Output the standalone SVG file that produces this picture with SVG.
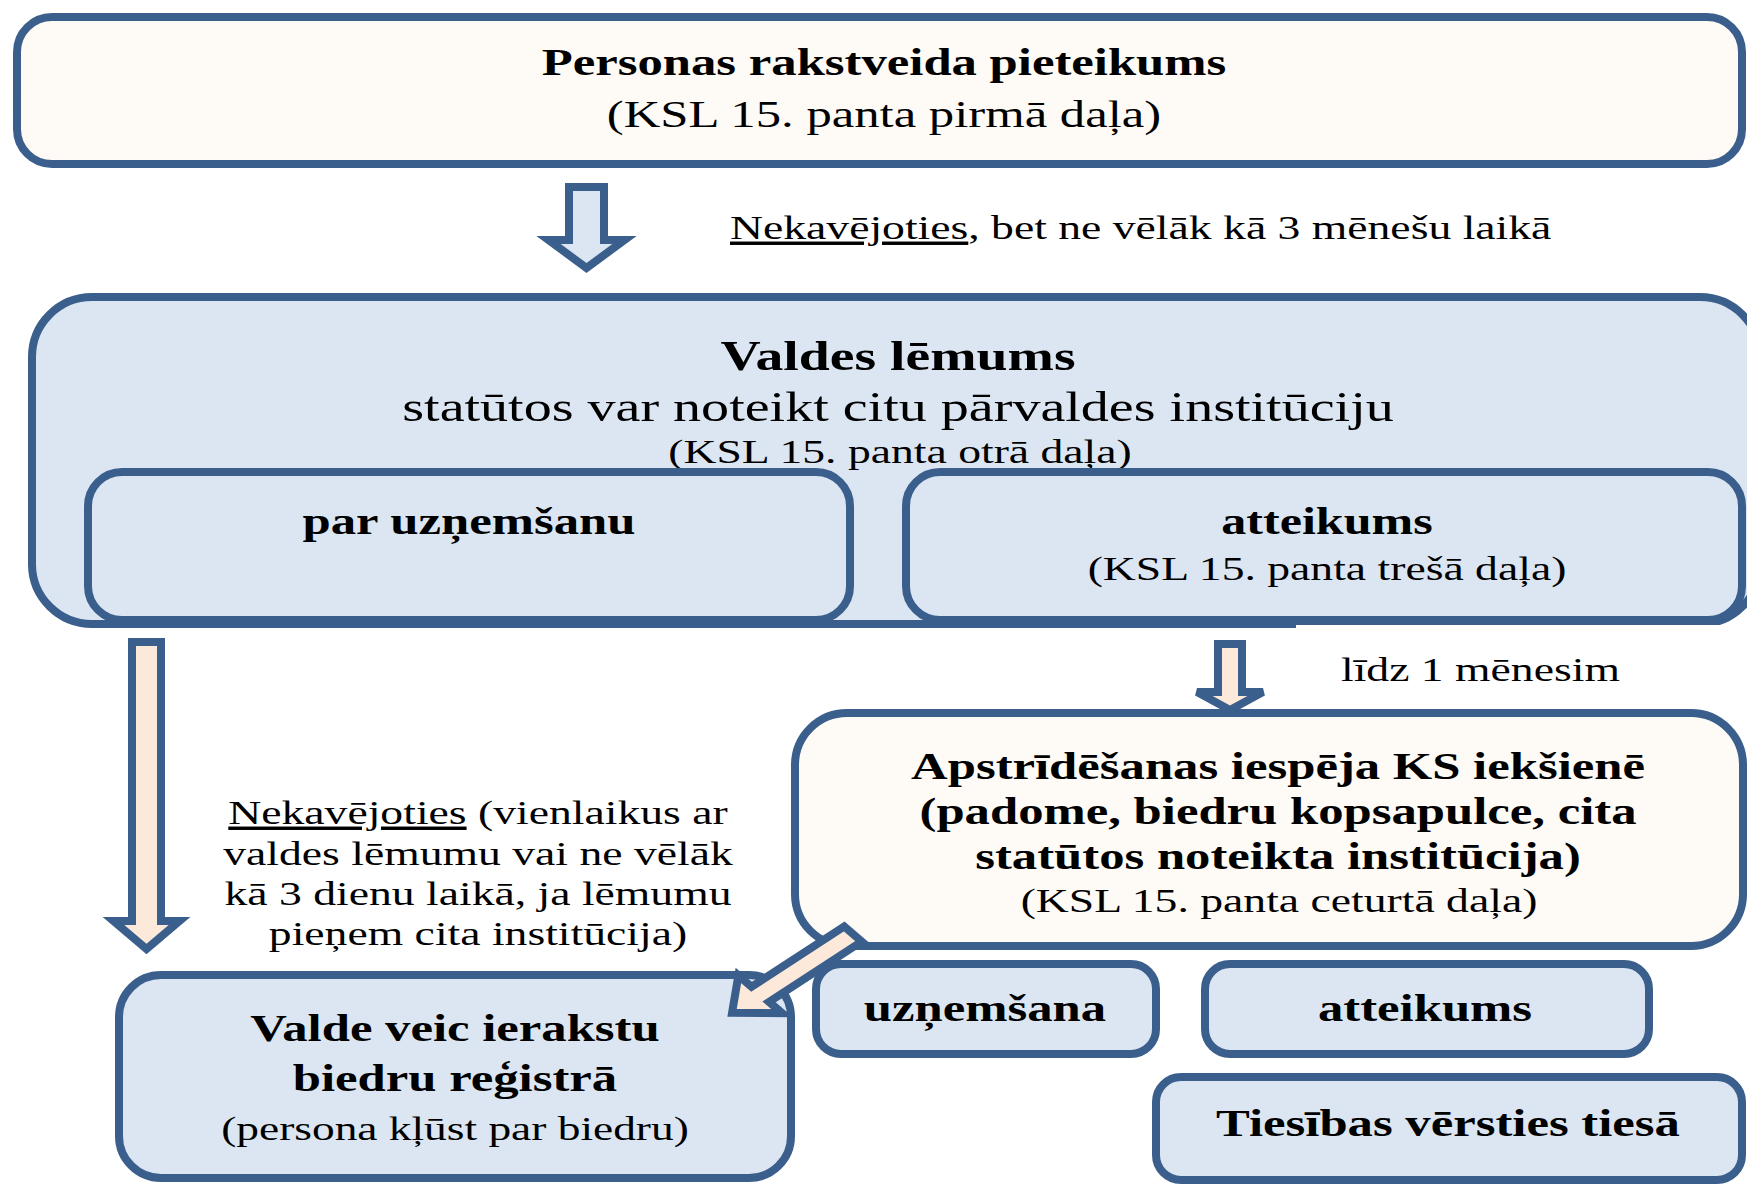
<svg xmlns="http://www.w3.org/2000/svg" width="1747" height="1186" viewBox="0 0 1747 1186">
<style>
.box{stroke:#3B5F8C;stroke-width:8}
.blue{fill:#DCE6F2}
.cream{fill:#FEFAF6}
.peach{fill:#FDE9D9}
.arrow{stroke:#3B5F8C;stroke-width:8;stroke-linejoin:miter}
.t{font-family:"Liberation Serif","Times New Roman",serif;fill:#000;text-anchor:middle}
.st{text-anchor:start}
.b{font-weight:bold}
.u{text-decoration:underline}
</style>
<rect x="0" y="0" width="1747" height="1186" fill="#FFFFFF"/>

<g id="node-pieteikums">
<rect class="box cream" x="17" y="17" width="1725" height="147" rx="35"/>
<text class="t b" font-size="38" transform="translate(884,75) scale(1.335,1)">Personas rakstveida pieteikums</text>
<text class="t" font-size="38" transform="translate(884,127) scale(1.335,1)">(KSL 15. panta pirmā daļa)</text>
</g>

<g id="node-valdes-lemums">
<rect class="box blue" x="32" y="297" width="1728" height="327" rx="60"/>
<rect x="1296" y="625" width="451" height="10" fill="#FFFFFF"/>
<text class="t b" font-size="41.7" transform="translate(898,370) scale(1.335,1)">Valdes lēmums</text>
<text class="t" font-size="42" transform="translate(898,421) scale(1.335,1)">statūtos var noteikt citu pārvaldes institūciju</text>
<text class="t" font-size="34.2" transform="translate(900,463) scale(1.335,1)">(KSL 15. panta otrā daļa)</text>
</g>

<g id="node-par-uznemsanu">
<rect class="box blue" x="88" y="472" width="762" height="148" rx="34"/>
<text class="t b" font-size="38" transform="translate(469,534) scale(1.335,1)">par uzņemšanu</text>
</g>

<g id="node-atteikums-1">
<rect class="box blue" x="906" y="472" width="836" height="148" rx="34"/>
<text class="t b" font-size="37.5" transform="translate(1327,534) scale(1.335,1)">atteikums</text>
<text class="t" font-size="34.2" transform="translate(1327,580) scale(1.335,1)">(KSL 15. panta trešā daļa)</text>
</g>

<g id="node-apstridesana">
<rect class="box cream" x="795" y="713" width="948" height="233" rx="52"/>
<text class="t b" font-size="38" transform="translate(1278,779) scale(1.335,1)">Apstrīdēšanas iespēja KS iekšienē</text>
<text class="t b" font-size="38" transform="translate(1278,824) scale(1.335,1)">(padome, biedru kopsapulce, cita</text>
<text class="t b" font-size="38" transform="translate(1278,869) scale(1.335,1)">statūtos noteikta institūcija)</text>
<text class="t" font-size="34.2" transform="translate(1279,912) scale(1.335,1)">(KSL 15. panta ceturtā daļa)</text>
</g>

<g id="node-valde-ieraksts">
<rect class="box blue" x="119" y="975" width="672" height="203" rx="42"/>
<text class="t b" font-size="38" transform="translate(455,1041) scale(1.335,1)">Valde veic ierakstu</text>
<text class="t b" font-size="38" transform="translate(455,1091) scale(1.335,1)">biedru reģistrā</text>
<text class="t" font-size="34" transform="translate(455,1140) scale(1.335,1)">(persona kļūst par biedru)</text>
</g>

<g id="node-uznemsana">
<rect class="box blue" x="816" y="964" width="340" height="90" rx="25"/>
<text class="t b" font-size="38" transform="translate(985,1021) scale(1.335,1)">uzņemšana</text>
</g>

<g id="node-atteikums-2">
<rect class="box blue" x="1205" y="964" width="444" height="90" rx="25"/>
<text class="t b" font-size="38" transform="translate(1425,1021) scale(1.335,1)">atteikums</text>
</g>

<g id="node-tiesa">
<rect class="box blue" x="1156" y="1077" width="586" height="103" rx="25"/>
<text class="t b" font-size="38" transform="translate(1448,1136) scale(1.335,1)">Tiesības vērsties tiesā</text>
</g>

<g id="connectors">
<polygon class="arrow blue" points="569,187 604,187 604,240 624.5,240 586.5,268 548.5,240 569,240"/>
<polygon class="arrow peach" points="132,642 161,642 161,921 179.5,921 146.5,949 113.5,921 132,921"/>
<polygon class="arrow peach" points="1218,644 1242,644 1242,692 1263,692 1230,710 1197,692 1218,692"/>
<g transform="translate(856,932) scale(1.335,1) rotate(139)">
<polygon class="arrow peach" vector-effect="non-scaling-stroke" points="3,-10 95,-10 95,-25 123,0 95,25 95,10 3,10"/>
</g>
<text class="t st" font-size="34.2" transform="translate(730,239) scale(1.335,1)"><tspan class="u">Nekavējoties</tspan>, bet ne vēlāk kā 3 mēnešu laikā</text>
<text class="t st" font-size="34.2" transform="translate(1341,681) scale(1.335,1)">līdz 1 mēnesim</text>
<text class="t" font-size="34.2" transform="translate(478,824) scale(1.335,1)"><tspan class="u">Nekavējoties</tspan> (vienlaikus ar</text>
<text class="t" font-size="34.2" transform="translate(478,865) scale(1.335,1)">valdes lēmumu vai ne vēlāk</text>
<text class="t" font-size="34.2" transform="translate(478,905) scale(1.335,1)">kā 3 dienu laikā, ja lēmumu</text>
<text class="t" font-size="34.2" transform="translate(478,945) scale(1.335,1)">pieņem cita institūcija)</text>
</g>
</svg>
